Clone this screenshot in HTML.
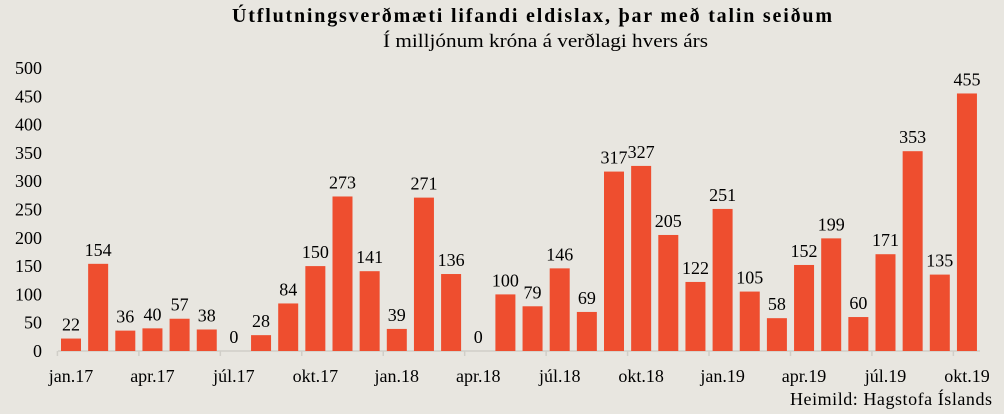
<!DOCTYPE html>
<html><head><meta charset="utf-8"><style>
html,body{margin:0;padding:0;background:#E8E6E0;}
svg{display:block;font-family:"Liberation Serif",serif;}
</style></head><body>
<svg width="1004" height="414" viewBox="0 0 1004 414" xmlns="http://www.w3.org/2000/svg" xml:space="preserve">
<rect width="1004" height="414" fill="#E8E6E0"/>
<text x="232" y="22" textLength="600" lengthAdjust="spacing" font-size="20" font-weight="bold" fill="#000">Útflutningsverðmæti lifandi  eldislax,  þar með talin seiðum</text>
<text x="383" y="47" textLength="325" lengthAdjust="spacingAndGlyphs" font-size="19" fill="#000">Í milljónum króna á verðlagi hvers árs</text>
<g font-size="18" text-anchor="end" fill="#000" id="yl"></g>
<line x1="58" y1="351" x2="980" y2="351" stroke="#D0CEC8" stroke-width="1.5"/>
<g id="ticks" stroke="#D0CEC8" stroke-width="1.5"></g>
<g id="bars" fill="#EE4E2F"></g>
<g id="vl" font-size="18" text-anchor="middle" fill="#000"></g>
<g id="xl" font-size="18" text-anchor="middle" fill="#000"></g>
<text x="790" y="405" textLength="202" lengthAdjust="spacing" font-size="18" fill="#000">Heimild:  Hagstofa Íslands</text>
</svg>
<script>
var v=[22,154,36,40,57,38,0,28,84,150,273,141,39,271,136,0,100,79,146,69,317,327,205,122,251,105,58,152,199,60,171,353,135,455];
var ns="http://www.w3.org/2000/svg";
function el(p,t,a,txt){var e=document.createElementNS(ns,t);for(var k in a)e.setAttribute(k,a[k]);if(txt!==undefined)e.textContent=txt;document.getElementById(p).appendChild(e);}
var y0=351,s=0.566,sp=27.15,c0=71;
for(var i=0;i<=500;i+=50){el("yl","text",{x:42,y:y0-i*s+6},String(i));}
var names=["jan.17","apr.17","júl.17","okt.17","jan.18","apr.18","júl.18","okt.18","jan.19","apr.19","júl.19","okt.19"];
for(var j=0;j<12;j++){var cx=c0+j*3*sp;el("xl","text",{x:cx,y:382},names[j]);
 var tx=cx-sp/2;el("ticks","line",{x1:tx,y1:351,x2:tx,y2:356});}
for(var i=0;i<v.length;i++){var cx=c0+i*sp,h=v[i]*s;
 if(h>0)el("bars","rect",{x:cx-10,y:y0-h,width:20,height:h});
 el("vl","text",{x:cx,y:y0-h-8},String(v[i]));}
</script>
</body></html>
